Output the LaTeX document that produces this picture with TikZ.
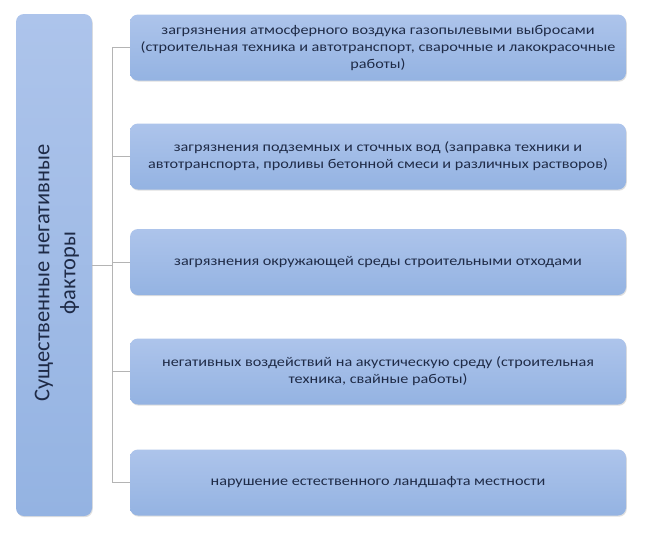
\documentclass[tikz,border=0pt]{standalone}
\usepackage{fontspec}
\setmainfont{Carlito}
\newfontfamily\widefont[FakeStretch=1.2]{Carlito}
\usetikzlibrary{shadows}
\definecolor{boxtop}{HTML}{ADC4EB}
\definecolor{boxbot}{HTML}{94B3E2}
\definecolor{txt}{HTML}{1F2B47}
\definecolor{conn}{HTML}{B4B4B4}
\begin{document}
\begin{tikzpicture}[x=1pt,y=-1pt,
  fbox/.style={rounded corners=8pt, top color=boxtop, bottom color=boxbot, draw=none,
    drop shadow={shadow xshift=0.8pt, shadow yshift=-1.2pt, opacity=0.25}},
  itembox/.style={fbox, minimum width=496pt, minimum height=66pt,
    align=center, inner sep=0pt, font=\widefont\fontsize{13.5}{17}\selectfont, text=txt},
  conline/.style={draw=conn, line width=0.8pt}]
\useasboundingbox (0,0) rectangle (645,536);
\fill[white] (0,0) rectangle (645,536);
\node[fbox, minimum width=76pt, minimum height=502pt, inner sep=0pt] (L) at (54,265) {};
\node[rotate=90, text=txt, align=center, font=\fontsize{22.5}{26}\selectfont] (Lt) at ([xshift=3pt,yshift=-8pt]L.center) {Существенные негативные\\факторы};
\node[itembox] (b1) at (378,47.5) {загрязнения атмосферного воздука газопылевыми выбросами\\(строительная техника и автотранспорт, сварочные и лакокрасочные\\работы)};
\node[itembox] (b2) at (378,156.5) {загрязнения подземных и сточных вод (заправка техники и\\автотранспорта, проливы бетонной смеси и различных растворов)};
\node[itembox] (b3) at (378,262) {загрязнения окружающей среды строительными отходами};
\node[itembox] (b4) at (378,371.5) {негативных воздействий на акустическую среду (строительная\\техника, свайные работы)};
\node[itembox] (b5) at (378,482.5) {нарушение естественного ландшафта местности};
\coordinate (t1) at (112,0 |- b1.west);
\coordinate (t5) at (112,0 |- b5.west);
\coordinate (tm) at (112,0 |- L.east);
\draw[conline] (b1.west) -- (t1) -- (t5) -- (b5.west);
\draw[conline] (L.east) -- (tm);
\draw[conline] (b2.west) -- (b2.west -| t1);
\draw[conline] (b3.west) -- (b3.west -| t1);
\draw[conline] (b4.west) -- (b4.west -| t1);
\end{tikzpicture}
\end{document}
